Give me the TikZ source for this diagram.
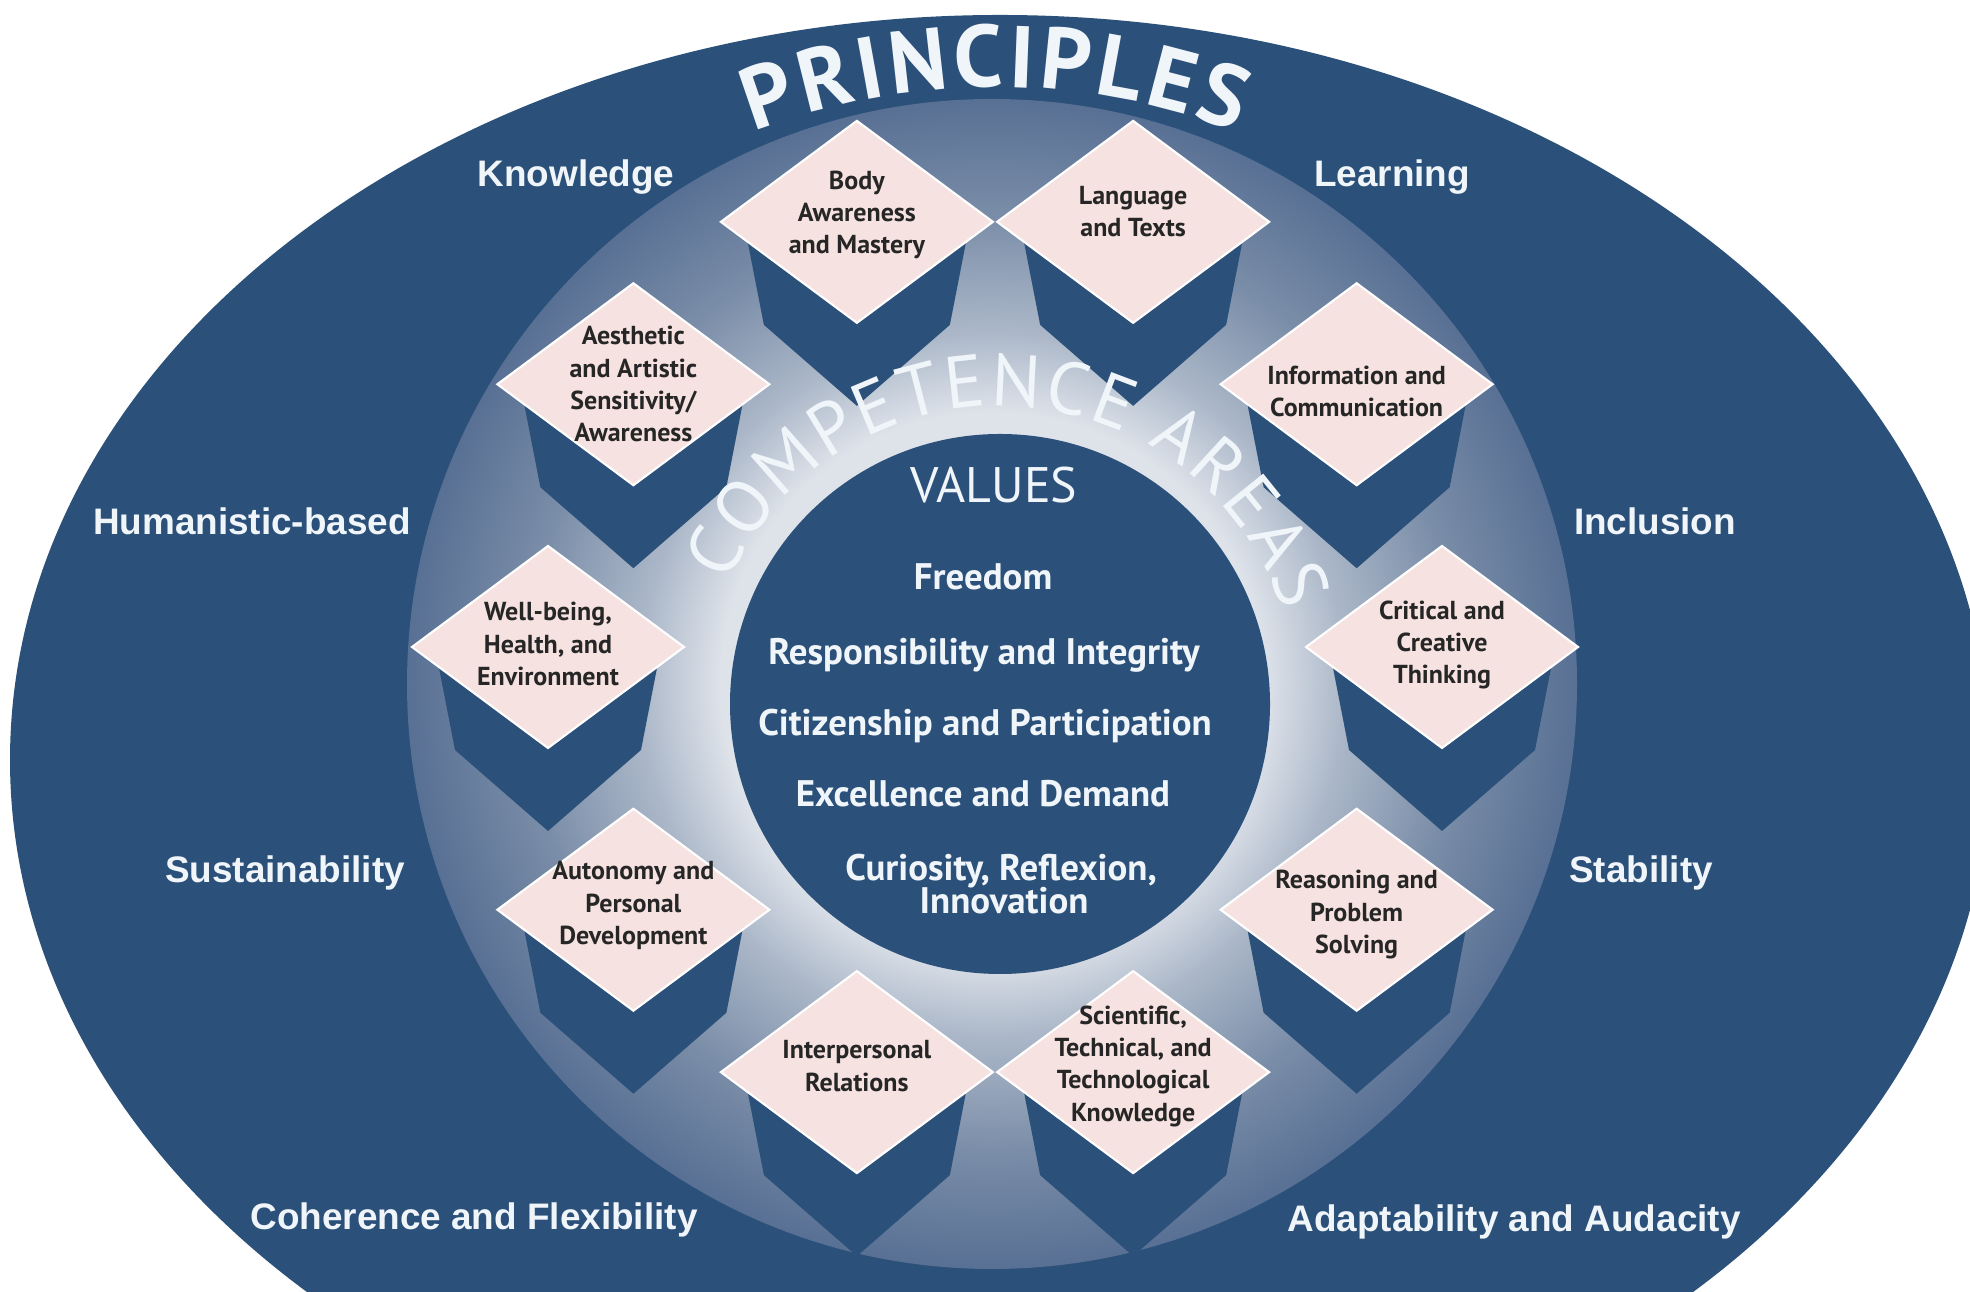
\documentclass[tikz,border=0pt]{standalone}
\usepackage{fontspec}
\usepackage{xcolor}
\usepackage{tikz}
\usetikzlibrary{calc, decorations.text}

\setmainfont{PT Sans}
\newfontfamily\principlefont{Liberation Sans}

\definecolor{navy}{RGB}{43,80,121}
\definecolor{petal}{RGB}{246,227,225}
\definecolor{chalk}{RGB}{240,245,250}
\definecolor{glowA}{RGB}{222,227,234}
\definecolor{glowB}{RGB}{172,184,201}
\definecolor{glowC}{RGB}{122,141,168}
\definecolor{glowD}{RGB}{88,112,148}

% ring edge sits at 25bp of the shading
\pgfdeclareradialshading{ringglow}{\pgfpoint{0cm}{0cm}}{%
  color(0bp)=(glowA); color(11.6bp)=(glowA); color(15bp)=(glowB);
  color(20bp)=(glowC); color(25bp)=(glowD); color(50bp)=(glowD)}

\tikzset{
  principle/.style={text=chalk, anchor=base, inner sep=0pt,
    font=\principlefont\bfseries\fontsize{10.5}{12}\selectfont},
  valuehead/.style={text=chalk, anchor=base, inner sep=0pt, font=\fontsize{14.2}{16}\selectfont},
  value/.style={text=chalk, anchor=base, inner sep=0pt, font=\bfseries\fontsize{10.5}{12}\selectfont},
  areashadow/.style={fill=navy},
  areabox/.style={fill=petal, draw=white, line width=0.6pt},
  areatext/.style={text=black!85, align=center, inner sep=0pt, font=\bfseries\fontsize{7.4}{9.2}\selectfont}
}

\begin{document}
\begin{tikzpicture}
    % Canvas
    \useasboundingbox (0,0) rectangle (19.70,12.91);
    \clip (0,0) rectangle (19.70,12.91);
    \fill[white] (0,0) rectangle (19.70,12.91);

    % Outer ellipse of principles
    \fill[navy] (10.00,5.31) ellipse [x radius=9.90, y radius=7.45];

    % Shaded ring of competence areas
    \shade[shading=ringglow] (9.92,6.07) circle (5.85);

    % Dark blocks under the diamonds
    \coordinate (hub) at (9.95,6.44);
    \foreach \a [count=\i] in {0,36,...,324}{
        \coordinate (c\i) at ($(hub)+(\a:4.47)$);
        \fill[areashadow, shift={(c\i)}] (-1.09,-0.21) -- (-0.93,-1.03) -- (0,-1.84) -- (0.93,-1.03) -- (1.09,-0.21) -- cycle;
    }

    % Inner circle of values
    \fill[navy] (10.00,5.87) circle (2.70);

    % Diamonds
    \foreach \i in {1,...,10}
        \draw[areabox, shift={(c\i)}] (0,1.01) -- (1.36,0) -- (0,-1.01) -- (-1.36,0) -- cycle;

    % Competence areas
    \node[areatext] (critical) at ($(c1)+(0,0.02)$) {Critical and\\Creative\\Thinking};
    \node[areatext] (information) at ($(c2)+(0,-0.07)$) {Information and\\Communication};
    \node[areatext] (language) at ($(c3)+(0,0.10)$) {Language\\and Texts};
    \node[areatext] (body) at ($(c4)+(0,0.07)$) {Body\\Awareness\\and Mastery};
    \node[areatext] (aesthetic) at (c5) {Aesthetic\\and Artistic\\Sensitivity/\\Awareness};
    \node[areatext] (wellbeing) at ($(c6)+(0,0.03)$) {Well-being,\\Health, and\\Environment};
    \node[areatext] (autonomy) at ($(c7)+(0,0.04)$) {Autonomy and\\Personal\\Development};
    \node[areatext] (interpersonal) at ($(c8)+(0,0.06)$) {Interpersonal\\Relations};
    \node[areatext] (scientific) at ($(c9)+(0,0.06)$) {Scientific,\\Technical, and\\Technological\\Knowledge};
    \node[areatext] (reasoning) at ($(c10)+(0,-0.05)$) {Reasoning and\\Problem\\Solving};

    % Curved titles
    \path[decorate, decoration={text along path, text color=chalk, text align={fit to path},
        text={|\bfseries\fontsize{25}{25}\selectfont|PRINCIPLES}}]
        (9.95,5.31) ++(111:6.73) arc [start angle=111, end angle=69, radius=6.73];
    \path[decorate, decoration={text along path, text color=chalk, text align={fit to path},
        text={|\fontsize{21}{21}\selectfont|COMPETENCE AREAS}}]
        (10.00,5.87) ++(156:2.98) arc [start angle=156, end angle=18, radius=2.98];

    % Values
    \node[valuehead] (values) at (9.94,7.88) {VALUES};
    \node[value] (freedom) at (9.83,7.01) {Freedom};
    \node[value] (responsibility) at (9.84,6.26) {Responsibility and Integrity};
    \node[value] (citizenship) at (9.85,5.55) {Citizenship and Participation};
    \node[value] (excellence) at (9.83,4.84) {Excellence and Demand};
    \node[value] (curiosity) at (10.01,4.10) {Curiosity, Reflexion,};
    \node[value] (innovation) at (10.04,3.77) {Innovation};

    % Principles
    \node[principle] (knowledge) at (5.76,11.04) {Knowledge};
    \node[principle] (learning) at (13.92,11.04) {Learning};
    \node[principle] (humanistic) at (2.52,7.56) {Humanistic-based};
    \node[principle] (inclusion) at (16.55,7.56) {Inclusion};
    \node[principle] (sustainability) at (2.85,4.08) {Sustainability};
    \node[principle] (stability) at (16.41,4.08) {Stability};
    \node[principle] (coherence) at (4.74,0.61) {Coherence and Flexibility};
    \node[principle] (adaptability) at (15.14,0.60) {Adaptability and Audacity};
\end{tikzpicture}
\end{document}
